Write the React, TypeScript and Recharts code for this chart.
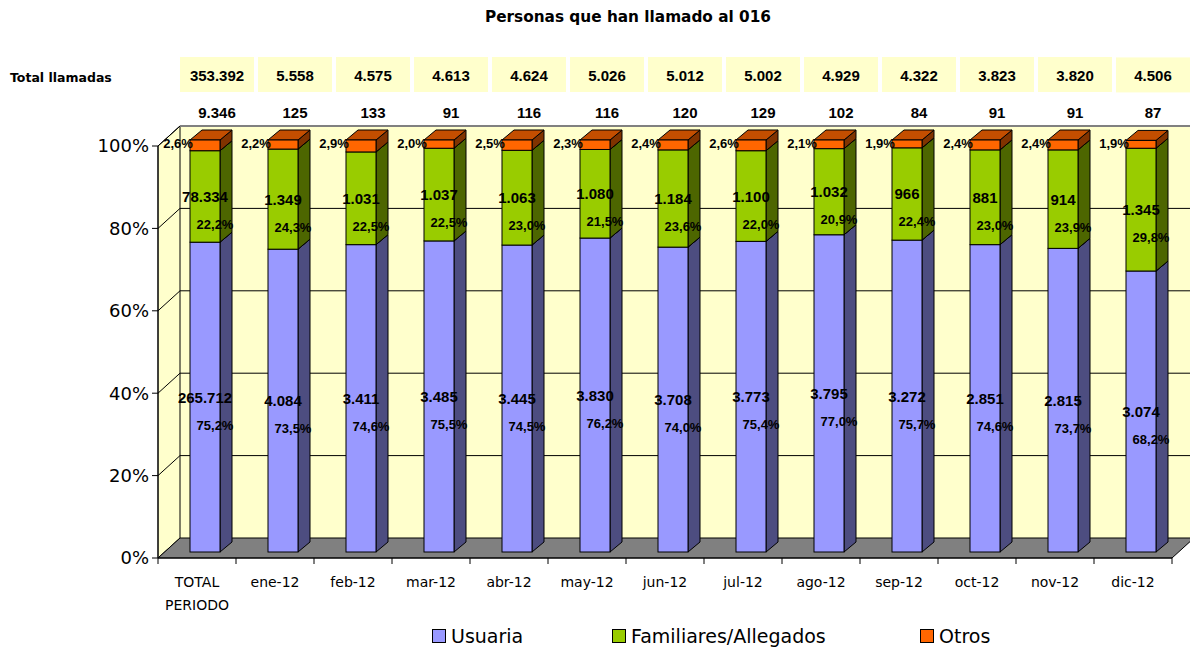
import React from 'react';
import { BarChart, Bar, XAxis, YAxis, ReferenceArea, LabelList, Legend } from 'recharts';

const categories = ['TOTAL PERIODO', 'ene-12', 'feb-12', 'mar-12', 'abr-12', 'may-12', 'jun-12', 'jul-12', 'ago-12', 'sep-12', 'oct-12', 'nov-12', 'dic-12'];
const usuariaCount = [265712, 4084, 3411, 3485, 3445, 3830, 3708, 3773, 3795, 3272, 2851, 2815, 3074];
const familiaresCount = [78334, 1349, 1031, 1037, 1063, 1080, 1184, 1100, 1032, 966, 881, 914, 1345];
const otrosCount = [9346, 125, 133, 91, 116, 116, 120, 129, 102, 84, 91, 91, 87];
const totalCalls = [353392, 5558, 4575, 4613, 4624, 5026, 5012, 5002, 4929, 4322, 3823, 3820, 4506];
const usuariaPct = [75.2, 73.5, 74.6, 75.5, 74.5, 76.2, 74.0, 75.4, 77.0, 75.7, 74.6, 73.7, 68.2];
const familiaresPct = [22.2, 24.3, 22.5, 22.5, 23.0, 21.5, 23.6, 22.0, 20.9, 22.4, 23.0, 23.9, 29.8];
const otrosPct = [2.6, 2.2, 2.9, 2.0, 2.5, 2.3, 2.4, 2.6, 2.1, 1.9, 2.4, 2.4, 1.9];
const yTicks = [0, 20, 40, 60, 80, 100];
const seriesNames = ['Usuaria', 'Familiares/Allegados', 'Otros'];

const data = categories.map((name, i) => ({
  name,
  usuariaPct: usuariaPct[i],
  familiaresPct: familiaresPct[i],
  otrosPct: otrosPct[i],
  usuaria: usuariaCount[i],
  familiares: familiaresCount[i],
  otros: otrosCount[i],
  total: totalCalls[i],
}));

const W = 1190;
const H = 652;
const MARGIN = { top: 146, right: 18, left: 98, bottom: 0 };
const YAXIS_W = 60;
const BAND = (W - MARGIN.left - YAXIS_W - MARGIN.right) / categories.length;
const DX = 8, DY = -6; // bar offset into depth
const BDX = 12, BDY = 10; // bar depth
const WX = 22, WY = 20; // wall depth

const NUM_FONT = '"Liberation Sans", Arial, sans-serif';
const AX_FONT = '"DejaVu Sans", Verdana, sans-serif';

const fmtN = (n: number) => n.toString().replace(/\B(?=(\d{3})+(?!\d))/g, '.');
const fmtP = (p: number) => p.toFixed(1).replace('.', ',') + '%';

const COLORS = {
  usuaria: { front: '#9999FF', side: '#4D4D80', top: '#7A7ACC' },
  familiares: { front: '#99CC00', side: '#4D6600', top: '#7AA300' },
  otros: { front: '#FF6600', side: '#803300', top: '#C44E00' },
};

const box3d = (c: { front: string; side: string; top: string }) => (props: any) => {
  const { x, y, width, height } = props;
  if (height == null || height <= 0) return <g />;
  const fx = x + DX;
  const fy = y + DY;
  const w = width;
  const h = height;
  return (
    <g>
      <polygon
        points={`${fx + w},${fy + h} ${fx + w + BDX},${fy + h - BDY} ${fx + w + BDX},${fy - BDY} ${fx + w},${fy}`}
        fill={c.side}
        stroke="#000"
        strokeWidth={1}
        strokeLinejoin="round"
      />
      <polygon
        points={`${fx},${fy} ${fx + BDX},${fy - BDY} ${fx + w + BDX},${fy - BDY} ${fx + w},${fy}`}
        fill={c.top}
        stroke="#000"
        strokeWidth={1}
        strokeLinejoin="round"
      />
      <rect x={fx} y={fy} width={w} height={h} fill={c.front} stroke="#000" strokeWidth={1} />
    </g>
  );
};

const Walls = (p: any) => {
  const { x, y, width, height } = p;
  const b = y + height;
  const r = x + width;
  const yOf = (v: number) => y + height * (1 - v / 100);
  return (
    <g>
      <rect x={x + WX} y={y - WY} width={width} height={height} fill="#FFFFCC" />
      <polygon points={`${x},${y} ${x + WX},${y - WY} ${x + WX},${b - WY} ${x},${b}`} fill="#FFFFCC" stroke="#000" strokeWidth={1} />
      {yTicks.filter((v) => v > 0 && v < 100).map((v) => (
        <g key={v}>
          <line x1={x + WX} x2={r + WX} y1={yOf(v) - WY} y2={yOf(v) - WY} stroke="#000" strokeWidth={1} />
          <line x1={x} x2={x + WX} y1={yOf(v)} y2={yOf(v) - WY} stroke="#000" strokeWidth={1} />
        </g>
      ))}
      <line x1={x + WX} x2={r + WX} y1={y - WY} y2={y - WY} stroke="#808080" strokeWidth={2} />
      <line x1={x} x2={x + WX} y1={y} y2={y - WY} stroke="#000" strokeWidth={1} />
      <polygon points={`${x},${b} ${r},${b} ${r + WX},${b - WY} ${x + WX},${b - WY}`} fill="#808080" stroke="#000" strokeWidth={1} />
    </g>
  );
};

const XTick = (p: any) => {
  const { x, y, payload, index } = p;
  const lines = String(payload.value).split(' ');
  const left = x - BAND / 2;
  const right = x + BAND / 2;
  return (
    <g>
      <line x1={left} x2={left} y1={y} y2={y + 6} stroke="#000" />
      {index === categories.length - 1 && <line x1={right} x2={right} y1={y} y2={y + 6} stroke="#000" />}
      {lines.map((l, i) => (
        <text key={i} x={x} y={y + 29 + i * 23} textAnchor="middle" fontFamily={AX_FONT} fontSize={14} fill="#000">
          {l}
        </text>
      ))}
    </g>
  );
};

const segLabel = (kind: 'count' | 'pct') => (p: any) => {
  const { x, y, width, height, value } = p;
  if (value == null) return null;
  const cx = x + DX + width / 2;
  const cy = y + DY + height / 2;
  if (kind === 'count') {
    return (
      <text x={cx} y={cy} textAnchor="middle" dominantBaseline="central" fontFamily={NUM_FONT} fontWeight="bold" fontSize={15} fill="#000">
        {fmtN(value)}
      </text>
    );
  }
  return (
    <text x={cx + 10} y={cy + 28} textAnchor="middle" dominantBaseline="central" fontFamily={NUM_FONT} fontWeight="bold" fontSize={13} fill="#000">
      {fmtP(value)}
    </text>
  );
};

const OtrosPctLabel = (p: any) => {
  const { x, y, value } = p;
  return (
    <text x={x + DX - 12} y={y + DY + 3} textAnchor="middle" dominantBaseline="central" fontFamily={NUM_FONT} fontWeight="bold" fontSize={13} fill="#000">
      {fmtP(value)}
    </text>
  );
};

const OtrosCountLabel = (p: any) => {
  const { x, y, width, value } = p;
  return (
    <text x={x + DX + width / 2 + 12} y={y - 34} textAnchor="middle" dominantBaseline="central" fontFamily={NUM_FONT} fontWeight="bold" fontSize={15} fill="#000">
      {fmtN(value)}
    </text>
  );
};

const TotalLabel = (p: any) => {
  const { x, y, width, value } = p;
  const cx = x + DX + width / 2 + 12;
  return (
    <g>
      <rect x={cx - 37} y={y - 89} width={74} height={35} fill="#FFFFCC" />
      <text x={cx} y={y - 71} textAnchor="middle" dominantBaseline="central" fontFamily={NUM_FONT} fontWeight="bold" fontSize={15} fill="#000">
        {fmtN(value)}
      </text>
    </g>
  );
};

const legendItems = [
  { name: seriesNames[0], color: COLORS.usuaria.front, left: 432 },
  { name: seriesNames[1], color: COLORS.familiares.front, left: 612 },
  { name: seriesNames[2], color: COLORS.otros.front, left: 920 },
];

const LegendContent = () => (
  <div style={{ position: 'relative', width: W, height: 30 }}>
    {legendItems.map((it) => (
      <div key={it.name} style={{ position: 'absolute', left: it.left, top: 3, display: 'flex', alignItems: 'center', fontFamily: AX_FONT, fontSize: 19, color: '#000', whiteSpace: 'nowrap' }}>
        <span style={{ display: 'inline-block', width: 12, height: 12, background: it.color, border: '1px solid #000', marginRight: 5 }} />
        <span>{it.name}</span>
      </div>
    ))}
  </div>
);

export default function App() {
  return (
    <div style={{ position: 'absolute', left: 0, top: 0, width: W, height: H, background: '#fff', overflow: 'hidden' }}>
      <div style={{ position: 'absolute', left: 0, top: 8, width: 1256, textAlign: 'center', fontFamily: AX_FONT, fontWeight: 'bold', fontSize: 15.3, color: '#000' }}>
        Personas que han llamado al 016
      </div>
      <div style={{ position: 'absolute', left: 10, top: 70, fontFamily: AX_FONT, fontWeight: 'bold', fontSize: 12.5, color: '#000' }}>
        Total llamadas
      </div>
      <BarChart width={W} height={H} data={data} margin={MARGIN} barSize={30}>
        <XAxis
          dataKey="name"
          interval={0}
          tickLine={false}
          tickSize={0}
          tickMargin={0}
          height={64}
          axisLine={{ stroke: '#000', strokeWidth: 1 }}
          tick={<XTick />}
        />
        <YAxis
          domain={[0, 100]}
          ticks={yTicks}
          width={YAXIS_W}
          tickFormatter={(v: number) => `${v}%`}
          tick={{ fontFamily: AX_FONT, fontSize: 18, fill: '#000' }}
          axisLine={{ stroke: '#000' }}
          tickLine={{ stroke: '#000' }}
          tickSize={6}
          tickMargin={3}
        />
        <ReferenceArea y1={0} y2={100} shape={<Walls />} ifOverflow="visible" />
        <Legend verticalAlign="bottom" content={<LegendContent />} wrapperStyle={{ left: 0, bottom: 0, width: W, height: 30 }} />
        <Bar dataKey="usuariaPct" name={seriesNames[0]} stackId="a" fill={COLORS.usuaria.front} shape={box3d(COLORS.usuaria)} isAnimationActive={false}>
          <LabelList dataKey="usuaria" content={segLabel('count')} />
          <LabelList dataKey="usuariaPct" content={segLabel('pct')} />
        </Bar>
        <Bar dataKey="familiaresPct" name={seriesNames[1]} stackId="a" fill={COLORS.familiares.front} shape={box3d(COLORS.familiares)} isAnimationActive={false}>
          <LabelList dataKey="familiares" content={segLabel('count')} />
          <LabelList dataKey="familiaresPct" content={segLabel('pct')} />
        </Bar>
        <Bar dataKey="otrosPct" name={seriesNames[2]} stackId="a" fill={COLORS.otros.front} shape={box3d(COLORS.otros)} isAnimationActive={false}>
          <LabelList dataKey="otrosPct" content={OtrosPctLabel} />
          <LabelList dataKey="otros" content={OtrosCountLabel} />
          <LabelList dataKey="total" content={TotalLabel} />
        </Bar>
      </BarChart>
    </div>
  );
}
